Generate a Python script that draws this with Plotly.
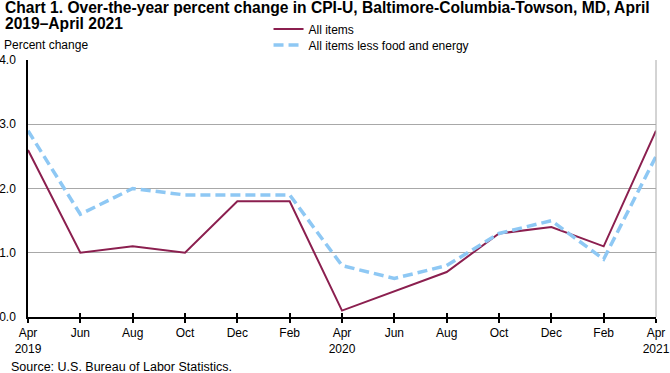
import plotly.graph_objects as go

months = ["Apr<br>2019", "Jun", "Aug", "Oct", "Dec", "Feb", "Apr<br>2020", "Jun", "Aug", "Oct", "Dec", "Feb", "Apr<br>2021"]
all_items = [2.6, 1.0, 1.1, 1.0, 1.8, 1.8, 0.1, 0.4, 0.7, 1.3, 1.4, 1.1, 2.9]
core = [2.9, 1.6, 2.0, 1.9, 1.9, 1.9, 0.8, 0.6, 0.8, 1.3, 1.5, 0.9, 2.5]
yticks = [0.0, 1.0, 2.0, 3.0, 4.0]
title_lines = ["Chart 1. Over-the-year percent change in CPI-U, Baltimore-Columbia-Towson, MD, April",
               "2019–April 2021"]

xs = list(range(len(months)))
font = "Liberation Sans, Arial, sans-serif"

fig = go.Figure()
fig.add_trace(go.Scatter(x=xs, y=all_items, mode="lines", name="All items",
                         line=dict(color="#8B1F4F", width=2), legend="legend"))
fig.add_trace(go.Scatter(x=xs, y=core, mode="lines", name="All items less food and energy",
                         line=dict(color="#8EC8F4", width=3.5, dash="10px,5px"), legend="legend2"))
# invisible helper trace so the overlaying axis (inner tick marks) is drawn
fig.add_trace(go.Scatter(x=xs, y=all_items, xaxis="x2", mode="lines",
                         line=dict(width=0, color="rgba(0,0,0,0)"),
                         showlegend=False, hoverinfo="skip"))

fig.update_layout(
    width=670, height=373,
    margin=dict(l=28, r=14, t=60, b=56, autoexpand=False),
    paper_bgcolor="white", plot_bgcolor="white",
    font=dict(family=font, size=12, color="black"),
    showlegend=True,
    legend=dict(x=0.383, y=1.1206, xanchor="left", yanchor="middle",
                bgcolor="rgba(0,0,0,0)", font=dict(size=12), itemwidth=30),
    legend2=dict(x=0.383, y=1.0584, xanchor="left", yanchor="middle",
                 bgcolor="rgba(0,0,0,0)", font=dict(size=12), itemwidth=30),
    xaxis=dict(range=[0, 12], tickmode="array", tickvals=xs, ticktext=months,
               showgrid=False, showline=True, linecolor="black", linewidth=1.5,
               ticks="outside", ticklen=4, tickwidth=1.5, tickcolor="black", zeroline=False,
               tickfont=dict(size=12)),
    xaxis2=dict(range=[0, 12], overlaying="x", side="bottom", anchor="y",
                tickmode="array", tickvals=xs, showticklabels=False,
                showgrid=False, showline=False, zeroline=False,
                ticks="inside", ticklen=4, tickwidth=1.5, tickcolor="black"),
    yaxis=dict(range=[0, 4], tickmode="array", tickvals=yticks,
               ticktext=[f"{v:.1f}" for v in yticks],
               showgrid=True, gridcolor="#A8A8A8", gridwidth=1,
               showline=True, linecolor="black", linewidth=1.5,
               ticks="", ticklabelstandoff=8, zeroline=False, tickfont=dict(size=12)),
    annotations=[
        dict(text="<b>" + title_lines[0] + "</b>", x=0, xref="paper", xanchor="left", xshift=-25,
             y=1, yref="paper", yanchor="middle", yshift=53, showarrow=False,
             font=dict(size=15.6)),
        dict(text="<b>" + title_lines[1] + "</b>", x=0, xref="paper", xanchor="left", xshift=-25,
             y=1, yref="paper", yanchor="middle", yshift=37, showarrow=False,
             font=dict(size=15.6)),
        dict(text="Percent change", x=0, xref="paper", xanchor="left", xshift=-26,
             y=1, yref="paper", yanchor="middle", yshift=15, showarrow=False,
             font=dict(size=12)),
        dict(text="Source: U.S. Bureau of Labor Statistics.", x=0, xref="paper", xanchor="left",
             xshift=-19, y=0, yref="paper", yanchor="middle", yshift=-50, showarrow=False,
             font=dict(size=12.5)),
    ],
    shapes=[dict(type="line", xref="paper", yref="paper", x0=1, x1=1, y0=0, y1=1,
                 line=dict(color="#A8A8A8", width=1))],
)

fig.write_html("out.html", config={"displayModeBar": False},
               post_script="document.body.style.margin='0';")
